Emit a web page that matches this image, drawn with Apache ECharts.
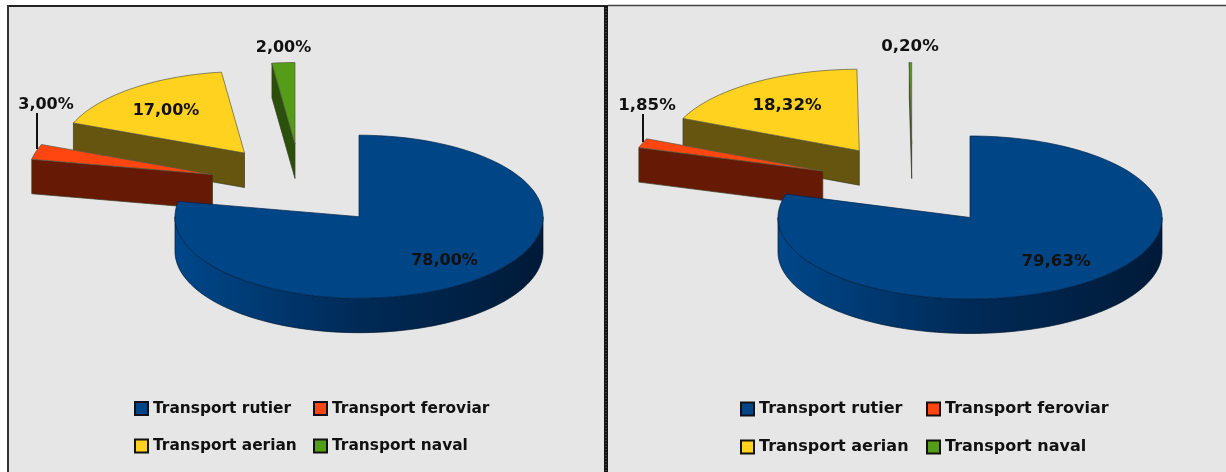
<!DOCTYPE html>
<html>
<head>
<meta charset="utf-8">
<title>Transport</title>
<script src="https://cdn.jsdelivr.net/npm/echarts@6/dist/echarts.min.js"></script>
<style>
html, body { margin: 0; padding: 0; background: #fff; }
#chart { width: 1226px; height: 472px; filter: blur(0.4px); }
</style>
</head>
<body>
<div id="chart"></div>
<script>
// categories and values
var categories = ['Transport rutier', 'Transport feroviar', 'Transport aerian', 'Transport naval'];
var valuesLeft = [78.00, 3.00, 17.00, 2.00];
var valuesRight = [79.63, 1.85, 18.32, 0.20];

var faceColors = ['#004585', '#ff4510', '#ffd21f', '#559c18'];
var wallColors = ['#00305f', '#661a05', '#66550f', '#2a500c'];

// pie layout, all in pixels
var pieLeft = {
    rx: 184, ry: 81.5, depth: 34.5,
    tips: [[359, 216.7], [212.5, 174.5], [244.5, 153], [295, 144]],
    labels: [[444.5, 260.5], [46, 104.5], [166, 110.5], [283.5, 47.5]],
    leader: [[37, 113], [37, 149]],
    labelFont: 16, legendX: [134, 313], legendTop: 401, legendGap: 22.5, legendFont: 15.4
};
var pieRight = {
    rx: 192, ry: 81.5, depth: 34.5,
    tips: [[970, 217.5], [822.8, 171], [859.3, 150.7], [911.7, 144]],
    labels: [[1056, 261.5], [647, 105.5], [787, 105.5], [910, 46.5]],
    leader: [[643, 114], [643, 142]],
    labelFont: 16.6, legendX: [740, 926], legendTop: 401, legendGap: 22, legendFont: 16
};

var deg = Math.PI / 180;

// angle is clockwise from 12 o'clock
function ellipsePoint(pie, tip, angle) {
    return [tip[0] + pie.rx * Math.sin(angle * deg), tip[1] - pie.ry * Math.cos(angle * deg)];
}

function arcPoints(pie, tip, from, to) {
    var pts = [];
    var steps = Math.max(2, Math.ceil(Math.abs(to - from) / 2));
    for (var i = 0; i <= steps; i++) {
        pts.push(ellipsePoint(pie, tip, from + (to - from) * i / steps));
    }
    return pts;
}

function shifted(pts, dy) {
    return pts.map(function (p) { return [p[0], p[1] + dy]; });
}

function poly(points, fill, stroke) {
    return {
        type: 'polygon',
        shape: { points: points },
        style: { fill: fill, stroke: stroke, lineWidth: 0.7 },
        silent: true
    };
}

function sliceStart(values, index) {
    var sum = 0;
    for (var i = 0; i < index; i++) sum += values[i];
    return sum * 3.6;
}

function makeSlice(pie, values, index) {
    return function (params, api) {
        var value = api.value(0);
        var start = sliceStart(values, index);
        var end = start + value * 3.6;
        var tip = pie.tips[index];
        var children = [];

        if (index === 0) {
            // outer wall, only the front half of the ellipse is seen
            var front = arcPoints(pie, tip, 90, 270);
            children.push(poly(front.concat(shifted(front, pie.depth).reverse()),
                new echarts.graphic.LinearGradient(0, 0, 1, 0, [
                    { offset: 0, color: '#00478a' },
                    { offset: 0.5, color: '#002a56' },
                    { offset: 1, color: '#001a38' }
                ]), '#00152e'));
        } else {
            // cut wall facing the viewer, from the tip to the slice's start edge
            var wall = [tip, ellipsePoint(pie, tip, start)];
            children.push(poly(wall.concat(shifted(wall, pie.depth).reverse()), wallColors[index], '#3a3a20'));
        }

        var face = [tip].concat(arcPoints(pie, tip, start, end));
        children.push(poly(face, faceColors[index], index === 0 ? '#00234a' : '#5a5a40'));
        return { type: 'group', children: children };
    };
}

function makeLabels(pie, values) {
    var items = values.map(function (v, i) {
        return {
            type: 'text',
            x: pie.labels[i][0],
            y: pie.labels[i][1],
            z: 10,
            silent: true,
            style: {
                text: v.toFixed(2).replace('.', ',') + '%',
                fill: '#111',
                font: 'bold ' + pie.labelFont + 'px "DejaVu Sans"',
                align: 'center',
                verticalAlign: 'middle'
            }
        };
    });
    items.push({
        type: 'line',
        z: 9,
        silent: true,
        shape: { x1: pie.leader[0][0], y1: pie.leader[0][1], x2: pie.leader[1][0], y2: pie.leader[1][1] },
        style: { stroke: '#111', lineWidth: 2 }
    });
    return items;
}

function makeSeries(pie, values) {
    // back slices first so the near ones cover them
    return [2, 3, 1, 0].map(function (i) {
        return {
            type: 'custom',
            name: categories[i],
            coordinateSystem: 'none',
            itemStyle: { color: faceColors[i] },
            data: [[values[i]]],
            renderItem: makeSlice(pie, values, i)
        };
    });
}

function makeLegends(pie) {
    var cols = [[categories[0], categories[2]], [categories[1], categories[3]]];
    return cols.map(function (names, col) {
        return {
            orient: 'vertical',
            left: pie.legendX[col],
            top: pie.legendTop,
            data: names,
            icon: 'rect',
            itemWidth: 13,
            itemHeight: 13,
            itemGap: pie.legendGap,
            selectedMode: false,
            padding: 0,
            itemStyle: { borderColor: '#111', borderWidth: 2 },
            textStyle: { fontFamily: 'DejaVu Sans', fontWeight: 'bold', fontSize: pie.legendFont, color: '#111' }
        };
    });
}

var frames = [
    { type: 'rect', z: -2, shape: { x: 9, y: 6, width: 596, height: 466 }, style: { fill: '#e6e6e6' } },
    { type: 'rect', z: -2, shape: { x: 608, y: 6, width: 618, height: 466 }, style: { fill: '#e6e6e6' } },
    { type: 'line', z: -1, shape: { x1: 7, y1: 6, x2: 606, y2: 6 }, style: { stroke: '#222', lineWidth: 2 } },
    { type: 'line', z: -1, shape: { x1: 8, y1: 5, x2: 8, y2: 472 }, style: { stroke: '#333', lineWidth: 2 } },
    { type: 'line', z: -1, shape: { x1: 606, y1: 5, x2: 606, y2: 472 }, style: { stroke: '#151515', lineWidth: 4 } },
    { type: 'line', z: -1, shape: { x1: 606, y1: 5, x2: 606, y2: 472 }, style: { stroke: '#666', lineWidth: 1, lineDash: [1, 2] } },
    { type: 'line', z: -1, shape: { x1: 608, y1: 5.5, x2: 1226, y2: 5.5 }, style: { stroke: '#444', lineWidth: 1.5 } }
];

var chart = echarts.init(document.getElementById('chart'));
chart.setOption({
    animation: false,
    backgroundColor: '#fff',
    legend: makeLegends(pieLeft).concat(makeLegends(pieRight)),
    graphic: { elements: frames.concat(makeLabels(pieLeft, valuesLeft), makeLabels(pieRight, valuesRight)) },
    series: makeSeries(pieLeft, valuesLeft).concat(makeSeries(pieRight, valuesRight))
});
</script>
</body>
</html>
